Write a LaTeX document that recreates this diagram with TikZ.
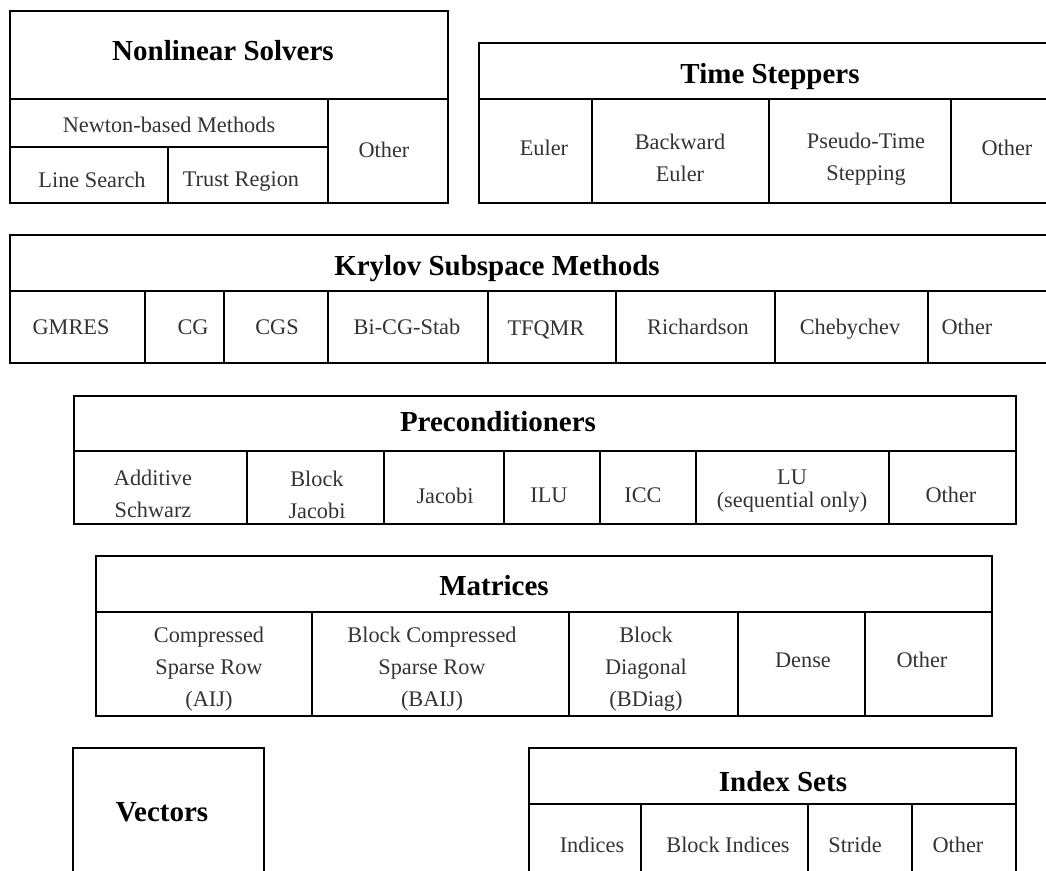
\documentclass[tikz,border=0pt]{standalone}
\usepackage{fontspec}
\setmainfont{Liberation Serif}
\begin{document}
\begin{tikzpicture}[x=1pt, y=-1pt, line width=2pt,
  title/.style={font=\fontsize{29}{32}\selectfont\bfseries, inner sep=0pt},
  item/.style={font=\fontsize{22.3}{32}\selectfont, text=black!80, align=center, inner sep=0pt}]
  \useasboundingbox (0,0) rectangle (1046,870);
  \clip (0,0) rectangle (1046,870);

  % nonlinear solvers
  \draw (9.5,11) rectangle (448,203);
  \draw (9.5,99) -- (448,99);
  \draw (9.5,147) -- (328,147);
  \draw (328,99) -- (328,203);
  \draw (168,147) -- (168,203);
  \node[title] (nls) at (223,51) {Nonlinear Solvers};
  \node[item] (newton) at (169,125) {Newton-based Methods};
  \node[item] (lsearch) at (92,180) {Line Search};
  \node[item] (tregion) at (241,182) {Trust Region};
  \node[item] (nlsother) at (384,150) {Other};

  % time steppers
  \draw (479,43) rectangle (1061,203);
  \draw (479,99) -- (1061,99);
  \foreach \x in {592,769,951} \draw (\x,99) -- (\x,203);
  \node[title] (ts) at (770,77) {Time Steppers};
  \node[item] (euler) at (544,148) {Euler};
  \node[item] (beuler) at (680,158) {Backward\\Euler};
  \node[item] (pseudo) at (866,159) {Pseudo-Time\\Stepping};
  \node[item] (tsother) at (1007,148) {Other};

  % krylov
  \draw (10,235) rectangle (1061,363);
  \draw (10,291) -- (1061,291);
  \foreach \x in {145,224,328,488,616,775,928} \draw (\x,291) -- (\x,363);
  \node[title] (ksp) at (497,269) {Krylov Subspace Methods};
  \node[item] (gmres) at (71,327) {GMRES};
  \node[item] (cg) at (193,327) {CG};
  \node[item] (cgs) at (277,327) {CGS};
  \node[item] (bicgstab) at (407,327) {Bi-CG-Stab};
  \node[item] (tfqmr) at (546,330) {TFQMR};
  \node[item] (richardson) at (698,327) {Richardson};
  \node[item] (chebychev) at (850,329) {Chebychev};
  \node[item] (kspother) at (967,327) {Other};

  % preconditioners
  \draw (74,396) rectangle (1016,524);
  \draw (74,451) -- (1016,451);
  \foreach \x in {247,384,504,600,696,889} \draw (\x,451) -- (\x,524);
  \node[title] (pc) at (498,422) {Preconditioners};
  \node[item] (asm) at (153,494) {Additive\\Schwarz};
  \node[item] (bjacobi) at (317,495) {Block\\Jacobi};
  \node[item] (jacobi) at (445,496) {Jacobi};
  \node[item] (ilu) at (549,495) {ILU};
  \node[item] (icc) at (643,495) {ICC};
  \node[item] (lu) at (792,491) {LU\\[-9pt](sequential only)};
  \node[item] (pcother) at (951,495) {Other};

  % matrices
  \draw (96,556) rectangle (992,716);
  \draw (96,612) -- (992,612);
  \foreach \x in {312,569,738,865} \draw (\x,612) -- (\x,716);
  \node[title] (mat) at (494,586) {Matrices};
  \node[item] (aij) at (209,669) {Compressed\\Sparse Row\\(AIJ)};
  \node[item] (baij) at (432,669) {Block Compressed\\Sparse Row\\(BAIJ)};
  \node[item] (bdiag) at (646,669) {Block\\Diagonal\\(BDiag)};
  \node[item] (dense) at (803,660) {Dense};
  \node[item] (matother) at (922,660) {Other};

  % vectors and index sets
  \draw (73,748) rectangle (264,890);
  \node[title] (vec) at (162,812) {Vectors};
  \draw (529,748) rectangle (1016,890);
  \draw (529,804) -- (1016,804);
  \foreach \x in {641,808,912} \draw (\x,804) -- (\x,890);
  \node[title] (is) at (783,782) {Index Sets};
  \node[item] (indices) at (592,845) {Indices};
  \node[item] (blockind) at (728,845) {Block Indices};
  \node[item] (stride) at (855,845) {Stride};
  \node[item] (isother) at (958,845) {Other};
\end{tikzpicture}
\end{document}
